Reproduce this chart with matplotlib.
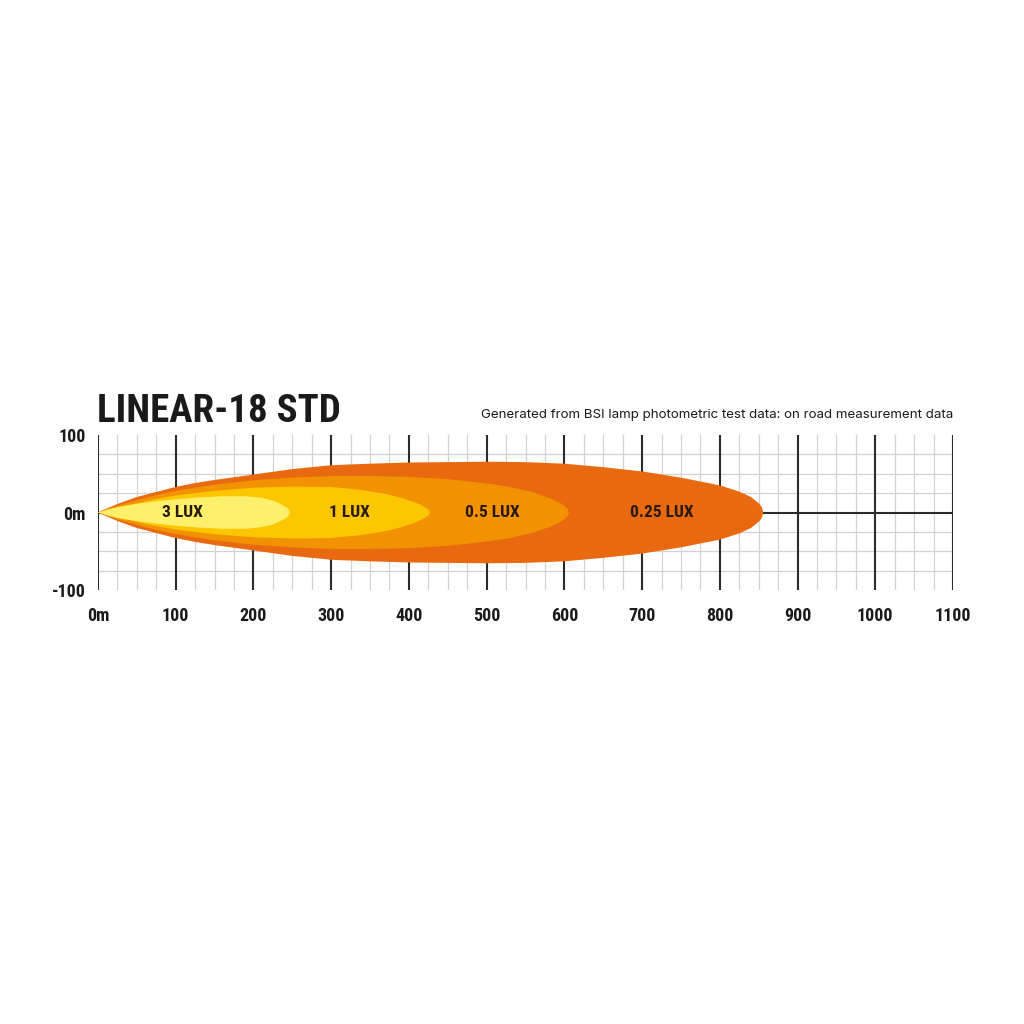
import matplotlib
matplotlib.use('Agg')
import matplotlib.pyplot as plt
from matplotlib import font_manager
import numpy as np

# Beam outlines: distance (m) and half width (m) of each lux contour
x_025 = [0, 5, 10, 25, 50, 75, 100, 125, 150, 200, 250, 300, 350, 400, 450, 500, 550, 600, 650, 700, 750, 800, 825, 840, 850, 854, 856]
h_025 = [0, 2.5, 4.5, 11, 20, 26.5, 33, 38, 42, 49, 56, 61, 63, 64.5, 65, 65.5, 65, 63, 58.5, 53, 45, 35, 27, 20, 12, 7, 0]

x_05 = [0, 5, 10, 25, 50, 75, 100, 150, 200, 250, 300, 350, 400, 450, 500, 530, 560, 580, 595, 601, 604, 606]
h_05 = [0, 2, 4, 9, 16, 22.5, 28, 36, 41.5, 45, 47, 47, 46, 43, 37.5, 33, 26, 19, 12, 8, 5, 0]

x_1 = [0, 5, 10, 25, 50, 75, 100, 150, 200, 250, 300, 340, 370, 390, 405, 415, 421, 425, 427]
h_1 = [0, 1.5, 3, 7, 12, 17.5, 22, 28, 32, 33.5, 33, 29, 24, 19, 14, 10, 6.5, 4, 0]

x_3 = [0, 5, 10, 25, 50, 75, 100, 130, 160, 190, 210, 225, 235, 241, 245, 247]
h_3 = [0, 1.5, 3, 7, 11, 14.5, 17, 19.5, 21, 21, 19, 15.5, 11, 7.5, 4.5, 0]

levels = ['0.25 LUX', '0.5 LUX', '1 LUX', '3 LUX']
label_x = [725, 508, 324, 109]

x_ticks = [0, 100, 200, 300, 400, 500, 600, 700, 800, 900, 1000, 1100]
x_ticklabels = ['0m', '100', '200', '300', '400', '500', '600', '700', '800', '900', '1000', '1100']
y_ticks = [-100, 0, 100]
y_ticklabels = ['-100', '0m', '100']

colors = ['#E8690F', '#F29200', '#FCC600', '#FFF06C']

# pick a narrow face if one is installed
names = {f.name for f in font_manager.fontManager.ttflist}
narrow = None
for n in ['Roboto Condensed', 'Liberation Sans Narrow', 'Open Sans Condensed', 'DejaVu Sans Condensed']:
    if n in names:
        narrow = n
        break
if narrow is None:
    for n in sorted(names):
        if 'Condensed' in n or 'Narrow' in n:
            narrow = n
            break
cond = [narrow, 'DejaVu Sans'] if narrow else ['DejaVu Sans']
stretch = 'normal' if narrow else 'condensed'

fig = plt.figure(figsize=(10.24, 10.24), dpi=100)
fig.patch.set_facecolor('white')
ax = fig.add_axes([98 / 1024, 1 - 590 / 1024, 855 / 1024, 155 / 1024])
ax.set_xlim(0, 1100)
ax.set_ylim(-100, 100)
for s in ax.spines.values():
    s.set_visible(False)

# grid
for xv in np.arange(0, 1101, 25):
    if xv % 100 == 0:
        ax.plot([xv, xv], [-100, 100], color='#2b2b2b', lw=1.5, zorder=2, solid_capstyle='butt')
    else:
        ax.plot([xv, xv], [-100, 100], color='#d2d2d2', lw=0.9, zorder=1)
for yv in [-75, -50, -25, 25, 50, 75]:
    ax.plot([0, 1100], [yv, yv], color='#d2d2d2', lw=0.9, zorder=1)
ax.plot([0, 1100], [0, 0], color='#2b2b2b', lw=1.5, zorder=2)

# beams, widest first
for xs, hs, c in zip([x_025, x_05, x_1, x_3], [h_025, h_05, h_1, h_3], colors):
    xs = np.array(xs, dtype=float)
    hs = np.array(hs, dtype=float)
    ax.fill(np.concatenate([xs, xs[::-1]]), np.concatenate([hs, -hs[::-1]]),
            color=c, lw=0, zorder=3, antialiased=True)

for lab, lx in zip(levels, label_x):
    ax.text(lx, 0, lab, ha='center', va='center', fontsize=12.5, fontweight='bold',
            family=cond, fontstretch=stretch, color='#2a1a0c', zorder=5)

ax.set_xticks(x_ticks)
ax.set_xticklabels(x_ticklabels, family=cond, fontstretch=stretch, fontweight='bold',
                   fontsize=13, color='#1a1a1a')
ax.set_yticks(y_ticks)
ax.set_yticklabels(y_ticklabels, family=cond, fontstretch=stretch, fontweight='bold',
                   fontsize=13, color='#1a1a1a')
ax.tick_params(length=0, axis='x', pad=12)
ax.tick_params(length=0, axis='y', pad=9)

fig.text(97 / 1024, 1 - 422 / 1024, 'LINEAR-18 STD', family=cond, fontstretch=stretch,
         fontweight='bold', fontsize=28, color='#1a1a1a', ha='left', va='baseline')
fig.text(953 / 1024, 1 - 418 / 1024,
         'Generated from BSI lamp photometric test data: on road measurement data',
         family=['Inter', 'DejaVu Sans'], fontsize=9.6, color='#1a1a1a', ha='right', va='baseline')

fig.savefig('out.png', dpi=100, facecolor='white')
